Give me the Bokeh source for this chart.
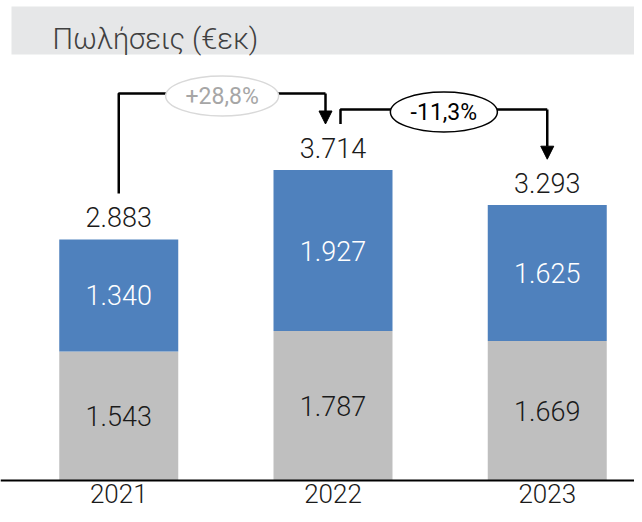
from bokeh.plotting import figure
from bokeh.models import (ColumnDataSource, Range1d, FixedTicker, BoxAnnotation, Label,
                          Arrow, NormalHead)
from bokeh.core.properties import value
from bokeh.embed import file_html
from bokeh.resources import INLINE

# ---- data ----
years = ["2021", "2022", "2023"]
segment_a = [1543, 1787, 1669]      # grey (bottom)
segment_b = [1340, 1927, 1625]      # blue (top)
totals = [2883, 3714, 3293]
change_labels = ["+28,8%", "-11,3%"]
title_text = "Πωλήσεις (€εκ)"

def fmt(v):
    return f"{v:,}".replace(",", ".")

# ---- geometry / styles ----
W, H = 634, 514
BASE_PX = 480                 # pixel row of the baseline (from top)
PX_PER_UNIT = 0.0836          # vertical scale
PX_PER_X = 214.25             # horizontal spacing of categories
X0_PX = 118.25                # pixel position of first category
x_start = -X0_PX / PX_PER_X
x_end = x_start + W / PX_PER_X
y_end = BASE_PX / PX_PER_UNIT
y_start = -(H - BASE_PX) / PX_PER_UNIT

def dy(px):   # pixels -> data units (vertical)
    return px / PX_PER_UNIT

def dx(px):   # pixels -> data units (horizontal)
    return px / PX_PER_X

FONT = value("Roboto Light")
GREY = "#bfbfbf"
BLUE = "#4f81bd"

xs = list(range(len(years)))
src = ColumnDataSource(dict(x=xs, a=segment_a, b=segment_b))

p = figure(width=W, height=H, output_backend="svg", toolbar_location=None,
           x_range=Range1d(x_start, x_end), y_range=Range1d(y_start, y_end),
           y_axis_location=None, min_border=0)
p.grid.visible = False
p.outline_line_color = None

# title band
p.add_layout(BoxAnnotation(bottom=y_end - dy(54), top=y_end - dy(6),
                           left=x_start + dx(11),
                           fill_color="#e6e7e8", fill_alpha=1, line_color=None,
                           level="underlay"))
p.add_layout(Label(x=x_start + dx(52), y=y_end - dy(38.5), text=title_text,
                   text_font="Roboto Light", text_font_size="29px",
                   text_color="#404040", text_baseline="middle"))

# bars
p.vbar_stack(["a", "b"], x="x", width=119 / PX_PER_X, source=src,
             color=[GREY, BLUE], line_color=None)

# segment labels
mid_a = [a / 2 for a in segment_a]
mid_b = [a + b / 2 for a, b in zip(segment_a, segment_b)]
p.text(xs, mid_a, text=[fmt(v) for v in segment_a], text_font=FONT,
       text_font_size="27px", text_color="#1a1a1a", text_align="center",
       text_baseline="middle")
p.text(xs, mid_b, text=[fmt(v) for v in segment_b], text_font=FONT,
       text_font_size="27px", text_color="white", text_align="center",
       text_baseline="middle")
# totals
p.text(xs, totals, text=[fmt(v) for v in totals], text_font=FONT,
       text_font_size="27px", text_color="#1a1a1a", text_align="center",
       text_baseline="middle", y_offset=-22)

# change arrows
GAP = dy(46)
levels = [max(totals[0], totals[1]) + dy(76.5), max(totals[1], totals[2]) + dy(60.5)]
starts_x = [xs[0], xs[1] + dx(7.5)]
ends_x = [xs[1] - dx(7.5), xs[2]]
ell_w = [113, 107]
ell_line = ["#d9d9d9", "black"]
txt_col = ["#a6a6a6", "black"]
for i in range(2):
    lv = levels[i]
    p.line([starts_x[i], starts_x[i], ends_x[i]], [totals[i] + GAP, lv, lv],
           line_color="black", line_width=2.5)
    p.add_layout(Arrow(end=NormalHead(size=13, fill_color="black", line_color="black"),
                       x_start=ends_x[i], y_start=lv, x_end=ends_x[i],
                       y_end=totals[i + 1] + GAP, line_color="black", line_width=2.5))
    cx = (starts_x[i] + ends_x[i]) / 2
    cy = lv - dy(2.5)
    p.ellipse([cx], [cy], width=ell_w[i], height=40, width_units="screen",
              height_units="screen", fill_color="white", line_color=ell_line[i],
              line_width=1.5)
    p.text([cx], [cy], text=[change_labels[i]], text_font=value("Roboto"),
           text_font_size="23px", text_color=txt_col[i], text_align="center",
           text_baseline="middle")

# x axis drawn at the zero line
ax = p.xaxis[0]
ax.fixed_location = 0
ax.ticker = FixedTicker(ticks=xs)
ax.major_label_overrides = {x: y for x, y in zip(xs, years)}
ax.major_label_text_font = "Roboto Light"
ax.major_label_text_font_size = "26px"
ax.major_label_text_color = "#1a1a1a"
ax.major_label_standoff = 3
ax.axis_line_width = 2
ax.axis_line_color = "black"
ax.major_tick_line_color = None
ax.minor_tick_line_color = None
ax.major_tick_out = 0
ax.major_tick_in = 0

open("out.html", "w").write(file_html(p, INLINE))
